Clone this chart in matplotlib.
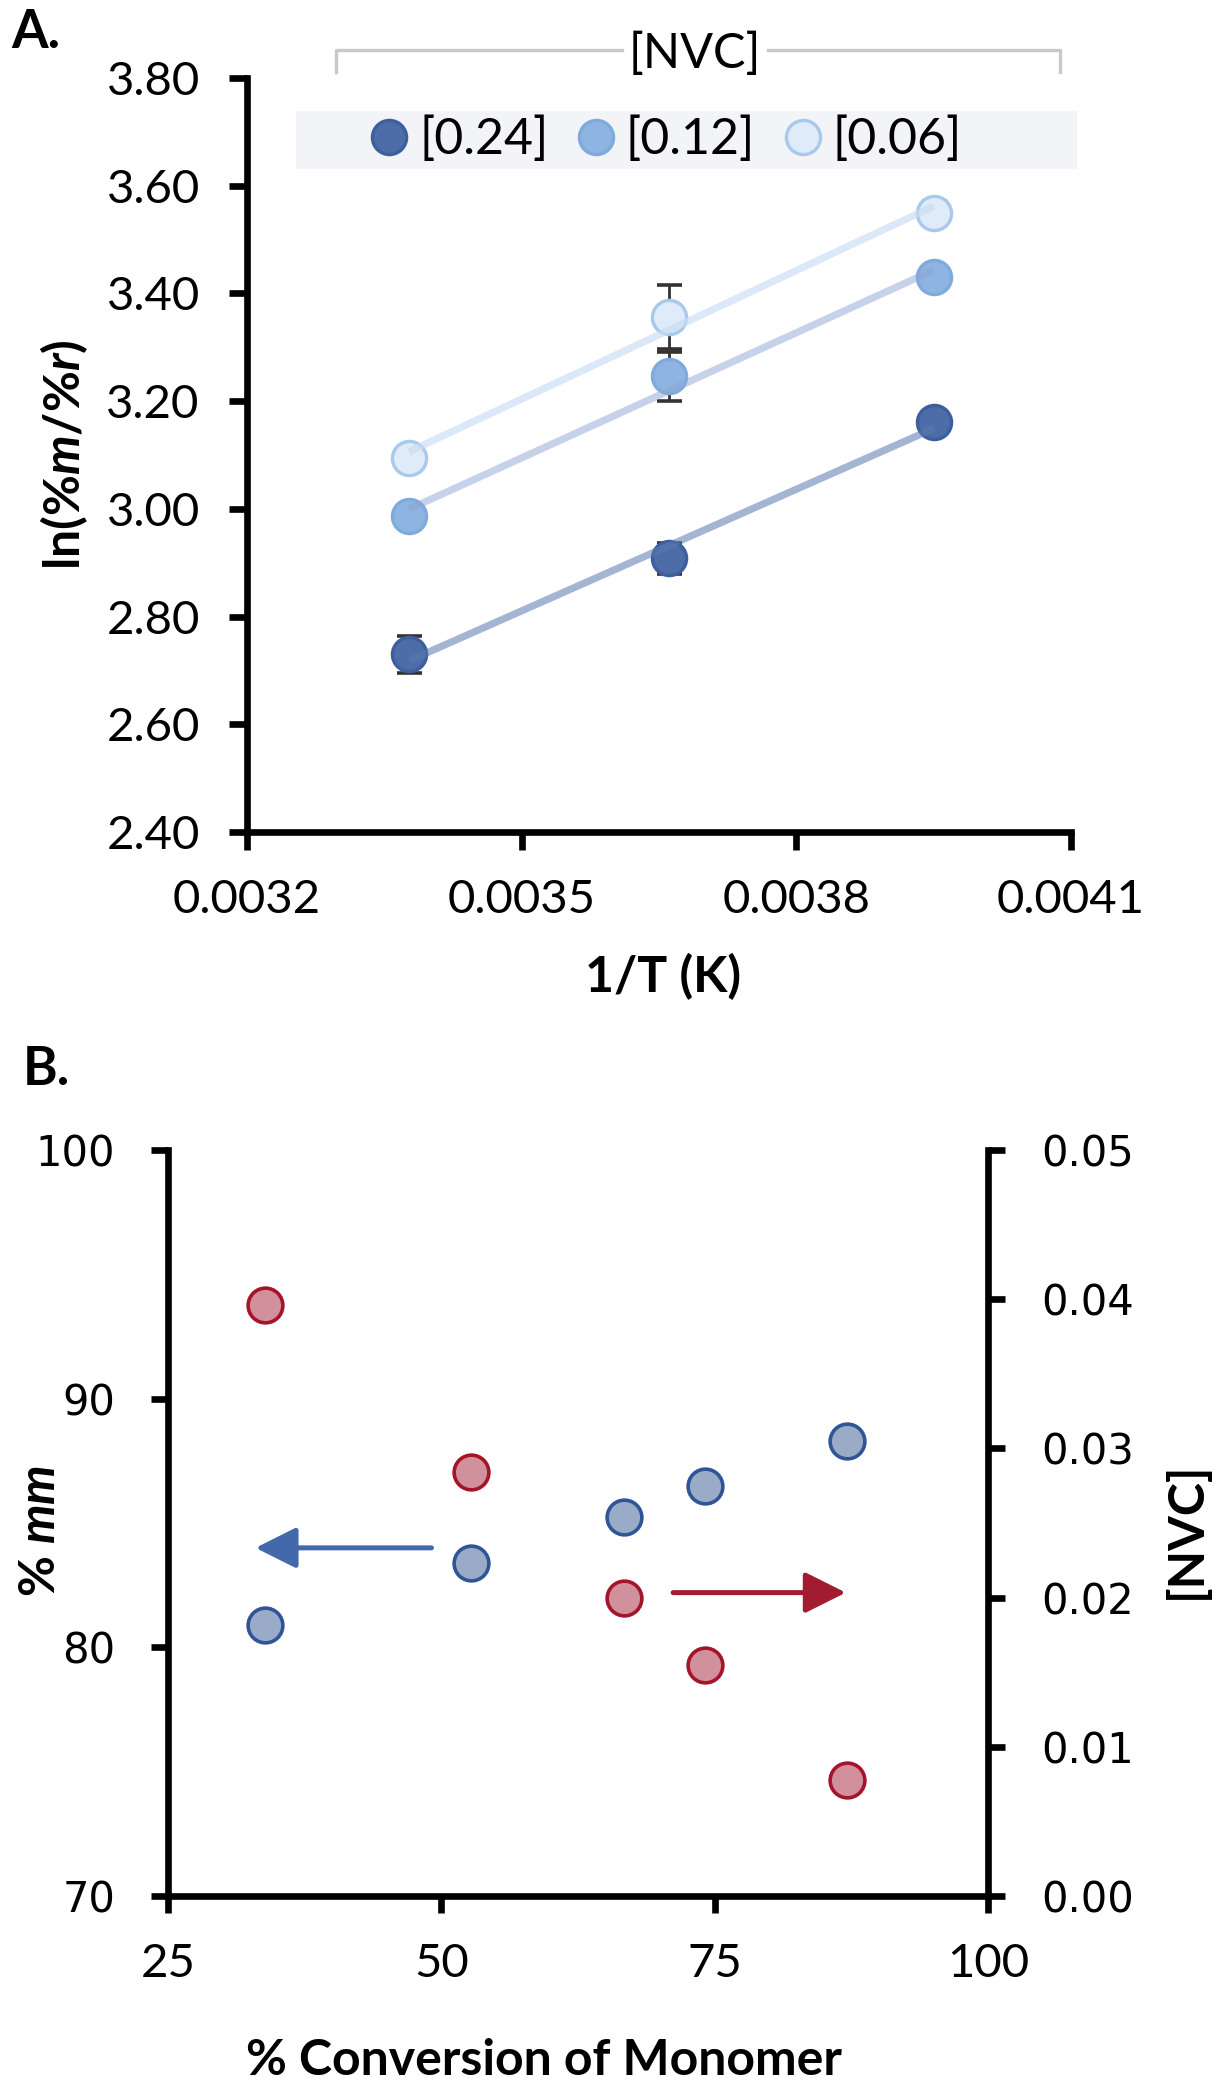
import numpy as np
import matplotlib
matplotlib.use('Agg')
import matplotlib.pyplot as plt
from matplotlib.lines import Line2D
from matplotlib.patches import Rectangle

plt.rcParams['font.family'] = ['Lato', 'DejaVu Sans']
plt.rcParams['mathtext.fontset'] = 'custom'
plt.rcParams['mathtext.rm'] = 'Lato'
plt.rcParams['mathtext.bfit'] = 'Lato:italic:bold'
plt.rcParams['mathtext.it'] = 'Lato:italic'
plt.rcParams['mathtext.bf'] = 'Lato:bold'

# ---- panel A: ln(%m/%r) vs 1/T for three NVC concentrations
inv_T = [0.003377, 0.003661, 0.003950]
nvc_labels = ['[0.24]', '[0.12]', '[0.06]']
ln_024 = [2.730, 2.908, 3.161]
ln_012 = [2.986, 3.246, 3.430]
ln_006 = [3.094, 3.356, 3.550]
err_024 = [0.034, 0.029, 0.0]
err_012 = [0.0, 0.045, 0.0]
err_006 = [0.0, 0.060, 0.021]

a_xticks = [0.0032, 0.0035, 0.0038, 0.0041]
a_yticks = [2.40, 2.60, 2.80, 3.00, 3.20, 3.40, 3.60, 3.80]

# ---- panel B: %mm and [NVC] vs conversion
conversion = [33.9, 52.7, 66.7, 74.1, 87.1]
pct_mm = [80.9, 83.4, 85.25, 86.5, 88.3]
nvc_conc = [0.0396, 0.0284, 0.0200, 0.0155, 0.0078]

b_xticks = [25, 50, 75, 100]
b_yticks = [70, 80, 90, 100]
b_y2ticks = [0.00, 0.01, 0.02, 0.03, 0.04, 0.05]

W, H = 1220, 2085
fig = plt.figure(figsize=(W / 200, H / 200), dpi=200)


def fx(px):
    return px / W


def fy(py):
    return 1 - py / H


SPW = 2.4

# ================= panel A
ax = fig.add_axes([fx(247), fy(832), fx(1071) - fx(247), fy(78) - fy(832)])

series = [
    (ln_024, err_024, '#4d6da8', '#3e5f9c', '#5a78b0', 0.55),
    (ln_012, err_012, '#8eb4e2', '#7eaadc', '#8fa6d4', 0.50),
    (ln_006, err_006, '#dfebf8', '#a9c9ec', '#c9ddf3', 0.65),
]
handles = []
for (yv, ev, face, edge, lcol, lalpha), lab in zip(series, nvc_labels):
    ax.errorbar(inv_T, yv, yerr=ev, fmt='none', ecolor='#333333',
                elinewidth=1.0, capsize=4.5, capthick=1.3, zorder=2)
    ax.plot(inv_T, yv, 'o', ms=12.3, mfc=face, mec=edge, mew=1.2, zorder=3)
    coef = np.polyfit(inv_T, yv, 1)
    xs = np.array([inv_T[0], inv_T[-1]])
    ax.plot(xs, np.polyval(coef, xs), color=lcol, lw=2.6, alpha=lalpha,
            solid_capstyle='butt', zorder=4)
    handles.append(Line2D([], [], ls='none', marker='o', ms=12.3,
                          mfc=face, mec=edge, mew=1.2))

ax.set_xlim(0.0032, 0.0041)
ax.set_ylim(2.40, 3.80)
ax.set_xticks(a_xticks)
ax.set_xticklabels([f'{v:.4f}' for v in a_xticks])
ax.set_yticks(a_yticks)
ax.set_yticklabels([f'{v:.2f}' for v in a_yticks])
for s in ['top', 'right']:
    ax.spines[s].set_visible(False)
for s in ['left', 'bottom']:
    ax.spines[s].set_linewidth(SPW)
ax.tick_params(direction='out', length=6.5, width=SPW, pad=10.5, labelsize=17)
ax.set_xlabel('1/T (K)', fontsize=18, fontweight='bold', va='top')
ax.xaxis.set_label_coords(0.505, -0.160)
ax.set_ylabel(r'ln(%$\mathbfit{m}$/%$\mathbfit{r}$)', fontsize=18, fontweight='bold')
ax.yaxis.set_label_coords(-0.19, 0.5)

# legend box + bracketed title
fig.patches.append(Rectangle((fx(296), fy(169)), fx(1077) - fx(296), fy(111) - fy(169),
                             transform=fig.transFigure, facecolor='#f2f4f7',
                             edgecolor='none', zorder=0))
fig.legend(handles, nvc_labels, ncol=3, frameon=False, loc='center left',
           bbox_to_anchor=(fx(364), fy(140)), borderaxespad=0, borderpad=0,
           handlelength=1.0, handletextpad=0.1, columnspacing=0.45, fontsize=18)
fig.text(fx(695), fy(54), '[NVC]', ha='center', va='center', fontsize=17.5)
fig.add_artist(Line2D([fx(336), fx(336), fx(622)], [fy(72), fy(50), fy(50)],
                      transform=fig.transFigure, color='#c9c9c9', lw=1.2))
fig.add_artist(Line2D([fx(768), fx(1060), fx(1060)], [fy(50), fy(50), fy(72)],
                      transform=fig.transFigure, color='#c9c9c9', lw=1.2))

fig.text(fx(11), fy(8), 'A.', fontsize=19, fontweight='bold', va='top', ha='left')
fig.text(fx(23), fy(1045), 'B.', fontsize=19, fontweight='bold', va='top', ha='left')

# ================= panel B
bx = fig.add_axes([fx(168), fy(1896), fx(988) - fx(168), fy(1150) - fy(1896)])
bx.plot(conversion, pct_mm, 'o', ms=12.5, mfc='#9aabc8', mec='#2f5597', mew=1.3, zorder=3)
bx.set_xlim(25, 100)
bx.set_ylim(70, 100)
bx.set_xticks(b_xticks)
bx.set_yticks(b_yticks)

br = bx.twinx()
br.plot(conversion, nvc_conc, 'o', ms=12.5, mfc='#d0909c', mec='#a5142a', mew=1.3, zorder=3)
br.set_ylim(0, 0.05)
br.set_yticks(b_y2ticks)
br.set_yticklabels([f'{v:.2f}' for v in b_y2ticks])

for s in ['top', 'right']:
    bx.spines[s].set_visible(False)
for s in ['top', 'left', 'bottom']:
    br.spines[s].set_visible(False)
for s in ['left', 'bottom']:
    bx.spines[s].set_linewidth(SPW)
br.spines['right'].set_linewidth(SPW)

bx.tick_params(axis='x', direction='out', length=6, width=SPW, pad=11, labelsize=17)
bx.tick_params(axis='y', direction='out', length=6, width=SPW, pad=13, labelsize=15)
br.tick_params(axis='y', direction='out', length=6, width=SPW, pad=13, labelsize=15)
for lab in bx.get_yticklabels() + br.get_yticklabels():
    lab.set_fontfamily('DejaVu Sans')

bx.annotate('', xy=(33.0, 84.0), xytext=(49.1, 84.0),
            arrowprops=dict(arrowstyle='-|>,head_length=0.9,head_width=0.45',
                            mutation_scale=14, color='#4469aa', lw=1.8,
                            shrinkA=0, shrinkB=0))
bx.annotate('', xy=(87.0, 82.2), xytext=(71.2, 82.2),
            arrowprops=dict(arrowstyle='-|>,head_length=0.9,head_width=0.45',
                            mutation_scale=14, color='#a01c2e', lw=1.8,
                            shrinkA=0, shrinkB=0))

bx.set_xlabel('% Conversion of Monomer', fontsize=18, fontweight='bold', va='top')
bx.xaxis.set_label_coords(0.458, -0.190)
bx.set_ylabel(r'% $\mathbfit{mm}$', fontsize=18, fontweight='bold')
bx.yaxis.set_label_coords(-0.128, 0.49)
br.set_ylabel('[NVC]', fontsize=18, fontweight='bold')
br.yaxis.set_label_coords(1.2134, 0.49)

fig.savefig('out.png', dpi=200)
